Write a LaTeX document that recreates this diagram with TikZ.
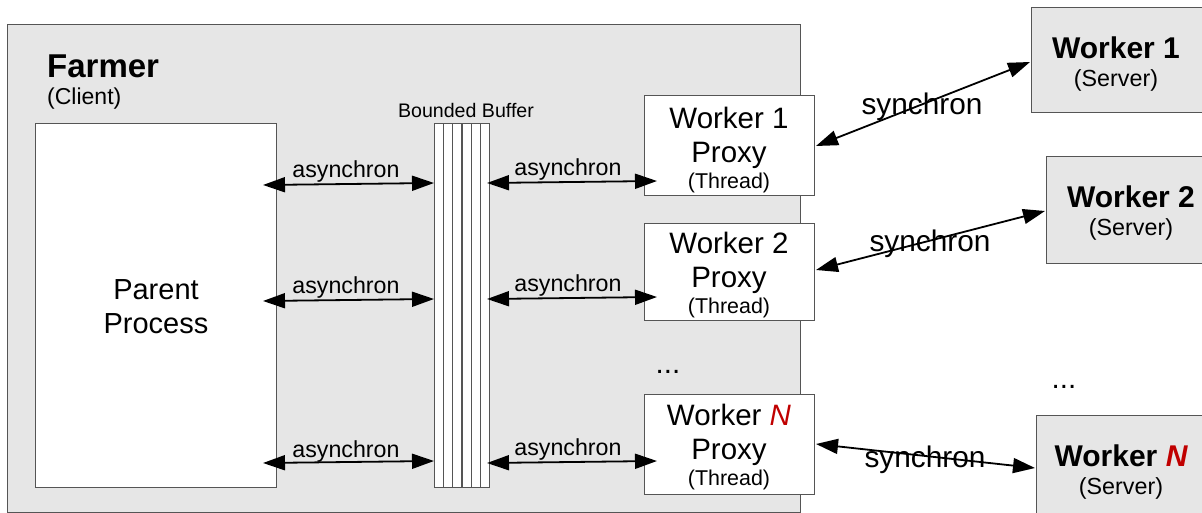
\documentclass[tikz,border=0pt]{standalone}
\usepackage{fontspec}
\setmainfont{Liberation Sans}
\usetikzlibrary{arrows.meta}
\definecolor{boxgray}{HTML}{E6E6E6}
\definecolor{edgegray}{HTML}{555555}
\definecolor{nred}{HTML}{C00000}
\newcommand{\fs}[1]{\fontsize{#1}{#1}\selectfont}
\begin{document}
\begin{tikzpicture}[x=1pt,y=-1pt,
  box/.style={draw=edgegray, line width=1pt, inner sep=0pt, outer sep=0pt},
  lbl/.style={inner sep=0pt, anchor=center},
  dbl/.style={{Triangle[length=22pt,width=15pt]}-{Triangle[length=22pt,width=15pt]}, line width=1.8pt, shorten <=0pt, shorten >=0pt},
  bar/.style={draw=edgegray, line width=0.9pt, fill=white, minimum width=9pt, minimum height=364pt, inner sep=0pt}]
\useasboundingbox (0,0) rectangle (1202,513);
% Farmer
\node[box, fill=boxgray, minimum width=793pt, minimum height=487pt, anchor=north west] (farmer) at (7,25) {};
\node[lbl, anchor=west] (farmert) at (47,66) {\fs{33}\bfseries Farmer};
\node[lbl, anchor=west] (client) at (47,99) {\fs{23}(Client)};
% Parent
\node[box, fill=white, minimum width=241pt, minimum height=363pt, anchor=north west] (parent) at (35,124) {};
\node[lbl, align=center, font=\fontsize{29}{34}\selectfont] (parentt) at (156,307) {Parent\\Process};
% Buffer
\foreach \i in {0,...,5} {
  \node[bar, anchor=north west] (b\i) at ({434+\i*9.2},123) {};
}
\node[lbl] (buft) at (466,110) {\fs{19.6}Bounded Buffer};
% Proxies
\foreach \n/\y/\h in {1/96/100,2/224/96,3/394/100} {
  \node[box, fill=white, minimum width=170pt, minimum height=\h pt, anchor=north west] (p\n) at (644,\y) {};
}
\node[lbl] (p1a) at (729,118) {\fs{29.5}Worker 1};
\node[lbl] (p1b) at (729,155) {\fs{29.5}Proxy};
\node[lbl] (p1c) at (729,183) {\fs{21.4}(Thread)};
\node[lbl] (p2a) at (729,243) {\fs{29.5}Worker 2};
\node[lbl] (p2b) at (729,280) {\fs{29.5}Proxy};
\node[lbl] (p2c) at (729,308) {\fs{21.4}(Thread)};
\node[lbl] (p3a) at (729,415) {\fs{29.5}Worker \textcolor{nred}{\itshape N}};
\node[lbl] (p3b) at (729,452) {\fs{29.5}Proxy};
\node[lbl] (p3c) at (729,480) {\fs{21.4}(Thread)};
\node[lbl] (dots1) at (668,372) {\fs{29.5}...};
% Servers
\node[box, fill=boxgray, minimum width=172pt, minimum height=105pt, anchor=north west] (w1) at (1031,8) {};
\node[box, fill=boxgray, minimum width=160pt, minimum height=106pt, anchor=north west] (w2) at (1046,157) {};
\node[box, fill=boxgray, minimum width=170pt, minimum height=110pt, anchor=north west] (w3) at (1036,415) {};
\node[lbl] (w1a) at (1116,48) {\fs{30}\bfseries Worker 1};
\node[lbl] (w1b) at (1116,80) {\fs{23.3}(Server)};
\node[lbl] (w2a) at (1131,197) {\fs{30}\bfseries Worker 2};
\node[lbl] (w2b) at (1131,229) {\fs{23.3}(Server)};
\node[lbl] (w3a) at (1121,456) {\fs{30}\bfseries Worker \textcolor{nred}{\itshape N}};
\node[lbl] (w3b) at (1121,488) {\fs{23.3}(Server)};
\node[lbl] (dots2) at (1064,387) {\fs{29.5}...};
% Arrow endpoints
\coordinate (l1a) at (263,185); \coordinate (l1b) at (434,183);
\coordinate (l2a) at (263,301); \coordinate (l2b) at (434,299);
\coordinate (l3a) at (263,463); \coordinate (l3b) at (434,461);
\coordinate (r1a) at (487,183); \coordinate (r1b) at (657,181);
\coordinate (r2a) at (487,299); \coordinate (r2b) at (657,297);
\coordinate (r3a) at (487,463); \coordinate (r3b) at (657,461);
\coordinate (s1a) at (816,146); \coordinate (s1b) at (1030,62);
\coordinate (s2a) at (816,270); \coordinate (s2b) at (1045,211);
\coordinate (s3a) at (816,444); \coordinate (s3b) at (1035,468);
% Async arrows
\foreach \k in {1,2,3} {
  \draw[dbl] (l\k a) -- (l\k b);
  \draw[dbl] (r\k a) -- (r\k b);
}
\node[lbl] (al1) at (346,172) {\fs{23.2}asynchron};
\node[lbl] (al2) at (346,288) {\fs{23.2}asynchron};
\node[lbl] (al3) at (346,451) {\fs{23.2}asynchron};
\node[lbl] (ar1) at (568,170) {\fs{23.2}asynchron};
\node[lbl] (ar2) at (568,286) {\fs{23.2}asynchron};
\node[lbl] (ar3) at (568,449) {\fs{23.2}asynchron};
% Sync arrows
\node[lbl] (sl1) at (922,107) {\fs{29.8}synchron};
\node[lbl] (sl2) at (930,244) {\fs{29.8}synchron};
\node[lbl] (sl3) at (925,460) {\fs{29.8}synchron};
\draw[dbl] (s1a) -- (s1b);
\draw[dbl] (s2a) -- (s2b);
\draw[dbl] (s3a) -- (s3b);
\end{tikzpicture}
\end{document}
